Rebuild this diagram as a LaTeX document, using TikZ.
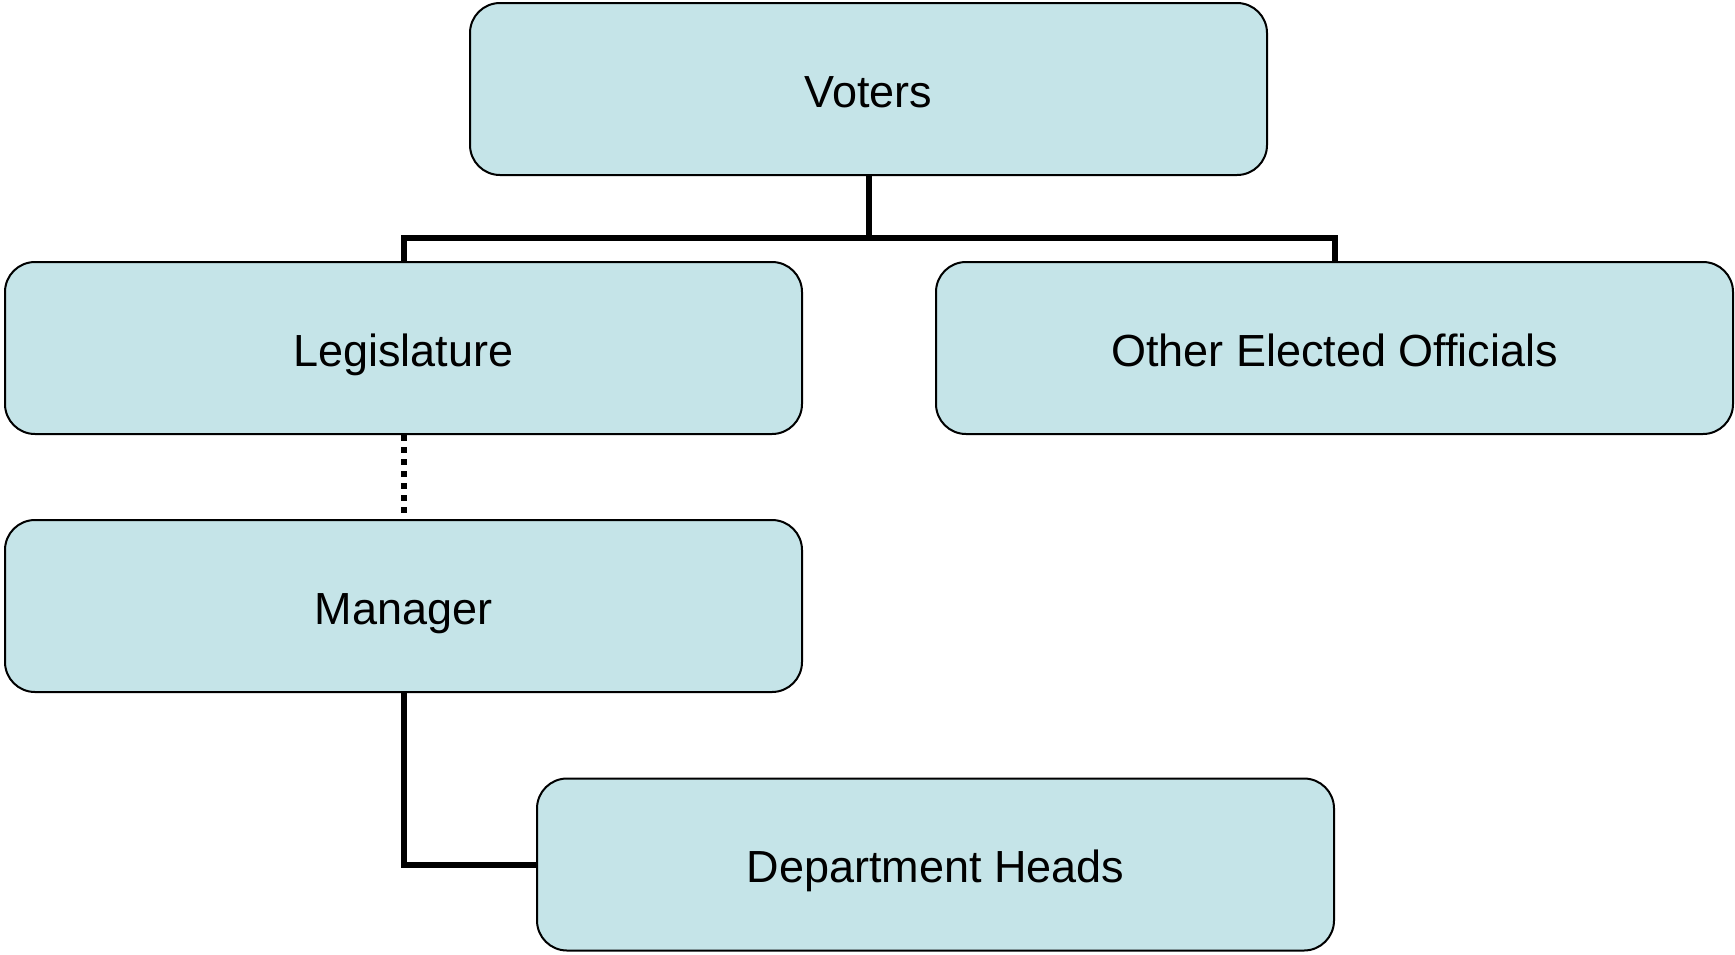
\documentclass[tikz,border=0pt]{standalone}
\usepackage{fontspec}
\setmainfont{Liberation Sans}
\begin{document}
\begin{tikzpicture}[x=1pt,y=-1pt,
  box/.style={draw=black, line width=2pt, fill=boxfill, rounded corners=30pt,
    minimum width=797pt, minimum height=172pt, inner sep=0pt,
    text height=36pt, text depth=0pt,
    font=\fontsize{45}{54}\selectfont},
  conn/.style={draw=black, line width=6pt},
  dotconn/.style={draw=black, line width=6pt, dash pattern=on 6pt off 6pt}]
\definecolor{boxfill}{HTML}{C5E4E8}
\useasboundingbox (0,0) rectangle (1735,954);
\node[box] (voters) at (868.5,89) {Voters};
\node[box] (leg) at (403.5,348) {Legislature};
\node[box] (other) at (1334.5,348) {Other Elected Officials};
\node[box] (mgr) at (403.5,606) {Manager};
\node[box] (dept) at (935.5,864.5) {Department Heads};
\coordinate (bus) at (868.5,238);
\draw[conn] (voters.south) -- (bus);
\draw[conn] (bus) -| (leg.north);
\draw[conn] (bus) -| (other.north);
\draw[dotconn] (leg.south) -- (mgr.north);
\draw[conn] (mgr.south) |- (dept.west);
\end{tikzpicture}
\end{document}
